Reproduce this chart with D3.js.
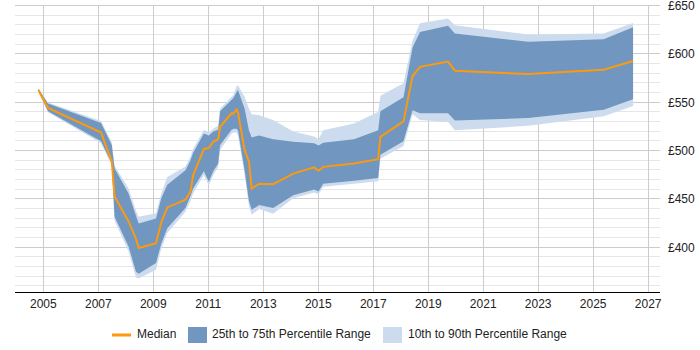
<!DOCTYPE html>
<html>
  <head>
    <meta charset="utf-8">
    <title>Percentile range chart</title>
    <style>
      body { margin: 0; background: #fff; }
      svg { font-family: "Liberation Sans", Arial, sans-serif; }
    </style>
  </head>
  <body>
    <div id="chart"></div>
    <script src="https://cdn.jsdelivr.net/npm/d3@7"></script>
    <script>

        // data (decimal years, £ values)
        var dates = [2004.82, 2005.17, 2007.10, 2007.49, 2007.59, 2008.10, 2008.37, 2008.47, 2009.10, 2009.29,
                     2009.51, 2010.17, 2010.35, 2010.45, 2010.84, 2011.02, 2011.18, 2011.36, 2011.43, 2011.85,
                     2011.92, 2012.03, 2012.08, 2012.32, 2012.48, 2012.58, 2012.85, 2013.36, 2014.09, 2014.85,
                     2015.01, 2015.18, 2016.30, 2017.18, 2017.26, 2018.10, 2018.43, 2018.70, 2019.72, 2019.97,
                     2022.64, 2025.38, 2026.45];
        var median = [562, 543.5, 518, 488, 452, 426, 408, 398.5, 403.5, 425,
                      440.5, 448.5, 457, 474, 501, 502, 508.5, 511, 524, 538,
                      537.5, 542, 539, 500, 488, 460, 465, 464.5, 475.5, 482,
                      478.5, 482.5, 486, 490.5, 513.5, 529.5, 576.5, 586, 591.5, 582,
                      578.5, 583, 592];
        var p25 = [561, 540, 509, 486, 431, 400, 374, 372, 383, 403,
                   419, 440, 452, 460, 478, 467, 478, 486, 505, 521,
                   522, 522, 520, 479, 447, 438, 443, 440, 453, 459,
                   457, 465, 468, 471, 495, 509, 541, 538, 538, 530.5,
                   533, 541.5, 552.5];
        var p75 = [563, 548, 528, 505, 481, 455, 432, 424, 429, 450,
                   464, 479, 489, 497, 517, 515, 519, 521, 540, 552,
                   554, 560, 562, 543, 520, 513, 515, 511, 508.5, 507,
                   504.5, 507.5, 511, 520.5, 540, 554.5, 606, 622, 628.5, 620.5,
                   612, 614.5, 627];
        var p10 = [560, 539, 507, 484, 427, 395, 368, 367, 376, 398,
                   414, 436, 447, 455, 474, 463, 474, 482, 500, 517,
                   518, 518, 515, 475, 442, 433, 439, 434, 450, 456,
                   454, 462, 465, 467.5, 491, 504, 537, 531, 529, 520.5,
                   525, 535, 545.5];
        var p90 = [564, 549, 530, 508, 484, 460, 437, 431, 434.5, 455,
                   472, 483, 493, 501, 521, 518, 522, 525, 543, 555,
                   557, 566, 567, 555, 543, 537, 536, 531, 519, 514,
                   511, 520.5, 527.5, 539.5, 556, 569, 613, 631, 636, 629,
                   619.5, 620.5, 631.5];

        var yearTicks = [2005, 2007, 2009, 2011, 2013, 2015, 2017, 2019, 2021, 2023, 2025, 2027];
        var valueTicks = [400, 450, 500, 550, 600, 650];
        var minorTicks = d3.range(360, 651, 10);

        var width = 700;
        var height = 350;
        var plotLeft = 15, plotRight = 660, plotTop = 5, plotBottom = 292;

        var rows = dates.map(function(d, i) {
          return { year: d, med: median[i], p25: p25[i], p75: p75[i], p10: p10[i], p90: p90[i] };
        });

        var x = d3.scaleLinear().domain([2003.97, 2027.43]).range([plotLeft, plotRight]);
        var y = d3.scaleLinear().domain([353, 650]).range([plotBottom, plotTop]);

        var svg = d3.select('#chart')
          .append('svg')
          .attr('width', width)
          .attr('height', height);

        // grid
        svg.append('g').selectAll('line')
          .data(minorTicks.filter(function(v) { return v % 50 !== 0; }))
          .enter().append('line')
          .attr('x1', plotLeft).attr('x2', plotRight)
          .attr('y1', function(d) { return Math.round(y(d)) + 0.5; })
          .attr('y2', function(d) { return Math.round(y(d)) + 0.5; })
          .attr('stroke', '#e6e6e6');

        svg.append('g').selectAll('line')
          .data(valueTicks)
          .enter().append('line')
          .attr('x1', plotLeft).attr('x2', plotRight)
          .attr('y1', function(d) { return Math.round(y(d)) + 0.5; })
          .attr('y2', function(d) { return Math.round(y(d)) + 0.5; })
          .attr('stroke', '#cccccc');

        svg.append('g').selectAll('line')
          .data(yearTicks)
          .enter().append('line')
          .attr('x1', function(d) { return Math.round(x(d)) + 0.5; })
          .attr('x2', function(d) { return Math.round(x(d)) + 0.5; })
          .attr('y1', plotTop).attr('y2', plotBottom)
          .attr('stroke', '#cccccc');

        // bands
        var area = function(lo, hi) {
          return d3.area()
            .x(function(d) { return x(d.year); })
            .y0(function(d) { return y(d[lo]); })
            .y1(function(d) { return y(d[hi]); });
        };

        svg.append('path')
          .datum(rows)
          .attr('d', area('p10', 'p90'))
          .attr('fill', '#ccdcee');

        svg.append('path')
          .datum(rows)
          .attr('d', area('p25', 'p75'))
          .attr('fill', '#7196bf');

        var line = d3.line()
          .x(function(d) { return x(d.year); })
          .y(function(d) { return y(d.med); });

        svg.append('path')
          .datum(rows)
          .attr('d', line)
          .attr('fill', 'none')
          .attr('stroke', '#fb9a0f')
          .attr('stroke-width', 2);

        // x axis
        svg.append('line')
          .attr('x1', plotLeft).attr('x2', plotRight)
          .attr('y1', plotBottom + 0.5).attr('y2', plotBottom + 0.5)
          .attr('stroke', '#000');

        svg.append('g').selectAll('text')
          .data(yearTicks)
          .enter().append('text')
          .attr('x', function(d) { return x(d); })
          .attr('y', plotBottom + 16)
          .attr('text-anchor', 'middle')
          .attr('font-size', 12)
          .attr('fill', '#222')
          .text(function(d) { return d; });

        // right value labels
        svg.append('g').selectAll('text')
          .data(valueTicks)
          .enter().append('text')
          .attr('x', plotRight + 8)
          .attr('y', function(d) { return y(d) + 5; })
          .attr('font-size', 12)
          .attr('fill', '#222')
          .text(function(d) { return '£' + d; });

        // legend
        var lg = svg.append('g').attr('font-size', 12).attr('fill', '#222');
        lg.append('line')
          .attr('x1', 112).attr('x2', 131).attr('y1', 335).attr('y2', 335)
          .attr('stroke', '#fb9a0f').attr('stroke-width', 3);
        lg.append('text').attr('x', 137).attr('y', 338).text('Median');
        lg.append('rect').attr('x', 188).attr('y', 327).attr('width', 19).attr('height', 16).attr('fill', '#7196bf');
        lg.append('text').attr('x', 212).attr('y', 338).text('25th to 75th Percentile Range');
        lg.append('rect').attr('x', 383).attr('y', 327).attr('width', 19).attr('height', 16).attr('fill', '#ccdcee');
        lg.append('text').attr('x', 408).attr('y', 338).text('10th to 90th Percentile Range');

    </script>
  </body>
</html>
